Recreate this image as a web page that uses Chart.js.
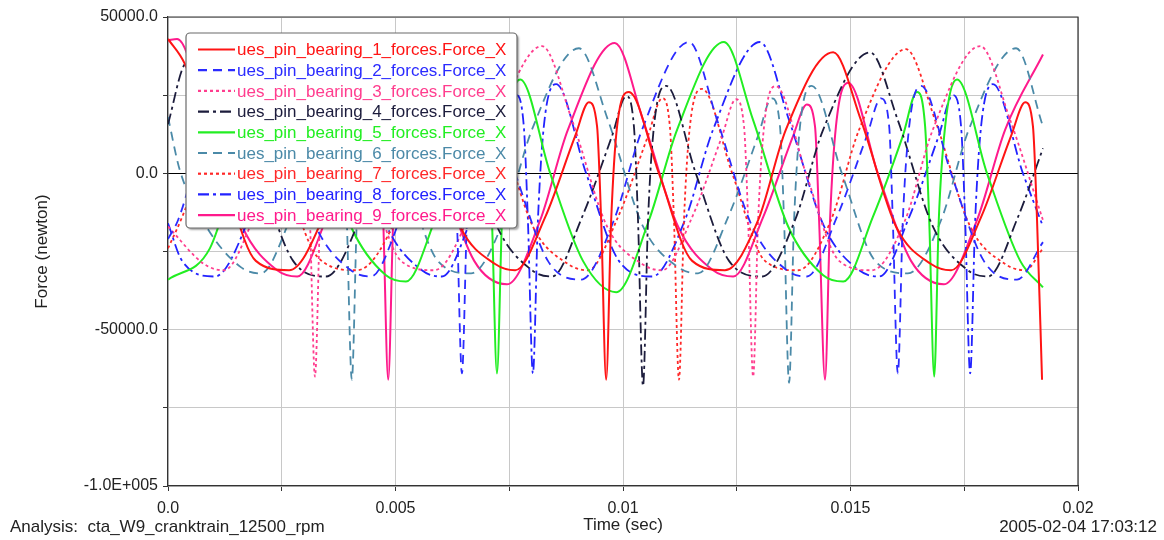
<!DOCTYPE html>
<html><head><meta charset="utf-8">
<script src="https://cdn.jsdelivr.net/npm/chart.js@4.4.1/dist/chart.umd.min.js"></script>
<style>html,body{margin:0;padding:0;background:#fff;}#wrap{width:1164px;height:540px;position:relative;}</style>
</head><body><div id="wrap"><canvas id="c" width="1164" height="540"></canvas></div>
<script>
// ---- data: [time (sec), force (newton)] ----
const seriesNames = [
 'ues_pin_bearing_1_forces.Force_X','ues_pin_bearing_2_forces.Force_X','ues_pin_bearing_3_forces.Force_X',
 'ues_pin_bearing_4_forces.Force_X','ues_pin_bearing_5_forces.Force_X','ues_pin_bearing_6_forces.Force_X',
 'ues_pin_bearing_7_forces.Force_X','ues_pin_bearing_8_forces.Force_X','ues_pin_bearing_9_forces.Force_X'];

const s1 = [[0,43000],[0.00037,35000],[0.00121,0],[0.00193,-28000],[0.00266,-31000],[0.00338,-15000],[0.00400,14000],[0.00503,38700],[0.00565,17000],[0.00642,-17000],[0.00719,-29000],[0.00763,-31000],[0.00829,-14000],[0.00895,12000],[0.00925,22700],[0.00943,15000],[0.00952,-15000],[0.00963,-66000],[0.00974,-15000],[0.00987,15000],[0.01013,26000],[0.01079,0],[0.01152,-28000],[0.01224,-31000],[0.01297,-15000],[0.01358,14000],[0.01462,38700],[0.01523,17000],[0.01600,-17000],[0.01677,-29000],[0.01721,-31000],[0.01787,-14000],[0.01853,12000],[0.01884,22700],[0.01901,15000],[0.01910,-15000],[0.01921,-66000]];
const s2 = [[0,-21000],[0.00022,-15000],[0.00084,14000],[0.00187,42000],[0.00248,17000],[0.00325,-17000],[0.00402,-31000],[0.00446,-33000],[0.00512,-14000],[0.00578,12000],[0.00609,24000],[0.00626,15000],[0.00635,-15000],[0.00646,-64000],[0.00657,-15000],[0.00670,15000],[0.00697,28000],[0.00763,0],[0.00835,-28000],[0.00908,-34000],[0.00980,-15000],[0.01042,14000],[0.01145,42000],[0.01207,17000],[0.01284,-17000],[0.01360,-31000],[0.01404,-33000],[0.01470,-14000],[0.01536,12000],[0.01567,24000],[0.01585,15000],[0.01593,-15000],[0.01604,-64000],[0.01615,-15000],[0.01629,15000],[0.01655,28000],[0.01721,0],[0.01793,-28000],[0.01866,-34000],[0.01923,-22000]];
const s3 = [[0,-17000],[0.00079,-29000],[0.00123,-31000],[0.00189,-14000],[0.00255,12000],[0.00286,23700],[0.00303,15000],[0.00312,-15000],[0.00323,-65000],[0.00334,-15000],[0.00347,15000],[0.00374,27900],[0.00440,0],[0.00512,-28000],[0.00585,-31000],[0.00657,-15000],[0.00719,14000],[0.00822,40700],[0.00888,17000],[0.00965,-17000],[0.01042,-29000],[0.01086,-31000],[0.01152,-14000],[0.01218,12000],[0.01248,23700],[0.01266,15000],[0.01275,-15000],[0.01286,-65000],[0.01297,-15000],[0.01310,15000],[0.01336,27900],[0.01402,0],[0.01475,-28000],[0.01547,-31000],[0.01620,-15000],[0.01681,14000],[0.01785,40700],[0.01851,17000],[0.01923,-15000]];
const s4 = [[0,15700],[0.00037,35000],[0.00080,38000],[0.00136,28000],[0.00202,0],[0.00275,-28000],[0.00347,-33000],[0.00420,-15000],[0.00481,14000],[0.00585,38700],[0.00646,17000],[0.00723,-17000],[0.00800,-31000],[0.00844,-33000],[0.00910,-14000],[0.00976,12000],[0.01007,24700],[0.01024,15000],[0.01033,-15000],[0.01044,-68000],[0.01055,-15000],[0.01068,15000],[0.01095,28000],[0.01160,0],[0.01233,-28000],[0.01306,-33000],[0.01378,-15000],[0.01440,14000],[0.01543,38700],[0.01604,17000],[0.01681,-17000],[0.01758,-31000],[0.01802,-33000],[0.01868,-14000],[0.01923,8000]];
const s5 = [[0,-34000],[0.00092,-24000],[0.00158,5000],[0.00262,42000],[0.00325,17000],[0.00402,-17000],[0.00479,-32600],[0.00523,-34600],[0.00589,-14000],[0.00655,12000],[0.00686,26000],[0.00703,15000],[0.00712,-15000],[0.00723,-64000],[0.00734,-15000],[0.00747,15000],[0.00774,30000],[0.00840,0],[0.00912,-28000],[0.00985,-38000],[0.01057,-15000],[0.01119,14000],[0.01222,42000],[0.01286,17000],[0.01363,-17000],[0.01440,-32600],[0.01484,-34600],[0.01549,-14000],[0.01615,12000],[0.01646,26000],[0.01664,15000],[0.01673,-15000],[0.01684,-65000],[0.01694,-15000],[0.01708,15000],[0.01734,30000],[0.01800,0],[0.01873,-28000],[0.01923,-36500]];
const s6 = [[0,18000],[0.00026,1000],[0.00084,-17000],[0.00160,-30000],[0.00204,-32000],[0.00270,-14000],[0.00336,12000],[0.00367,24000],[0.00385,15000],[0.00393,-15000],[0.00404,-66000],[0.00415,-15000],[0.00429,15000],[0.00455,28000],[0.00521,0],[0.00593,-28000],[0.00666,-32000],[0.00738,-15000],[0.00800,14000],[0.00903,40000],[0.00967,17000],[0.01044,-17000],[0.01121,-30000],[0.01165,-32000],[0.01231,-14000],[0.01297,12000],[0.01327,24000],[0.01345,15000],[0.01354,-15000],[0.01365,-67000],[0.01376,-15000],[0.01389,15000],[0.01415,28000],[0.01481,0],[0.01554,-28000],[0.01626,-32000],[0.01699,-15000],[0.01760,14000],[0.01864,40000],[0.01923,15000]];
const s7 = [[0,-24000],[0.00031,-14000],[0.00097,12000],[0.00127,24000],[0.00165,31000],[0.00255,0],[0.00330,-27000],[0.00415,-31000],[0.00499,-15000],[0.00560,14000],[0.00664,39700],[0.00725,17000],[0.00802,-17000],[0.00879,-29000],[0.00923,-31000],[0.00989,-14000],[0.01055,12000],[0.01086,24000],[0.01103,15000],[0.01112,-15000],[0.01123,-66000],[0.01134,-15000],[0.01147,15000],[0.01174,27000],[0.01240,0],[0.01312,-28000],[0.01385,-31000],[0.01457,-15000],[0.01519,14000],[0.01622,39700],[0.01686,17000],[0.01763,-17000],[0.01840,-29000],[0.01884,-31000],[0.01923,-24000]];
const s8 = [[0,-16000],[0.00031,-28000],[0.00103,-33000],[0.00176,-15000],[0.00237,14000],[0.00341,42000],[0.00404,17000],[0.00481,-17000],[0.00558,-31000],[0.00602,-33000],[0.00668,-14000],[0.00734,12000],[0.00765,25000],[0.00782,15000],[0.00791,-15000],[0.00802,-64000],[0.00813,-15000],[0.00826,15000],[0.00853,28500],[0.00919,0],[0.00991,-28000],[0.01064,-33000],[0.01136,-15000],[0.01198,14000],[0.01301,42000],[0.01365,17000],[0.01442,-17000],[0.01519,-31000],[0.01563,-33000],[0.01629,-14000],[0.01694,12000],[0.01725,25000],[0.01743,15000],[0.01752,-15000],[0.01763,-64000],[0.01774,-15000],[0.01787,15000],[0.01813,28500],[0.01879,0],[0.01923,-17000]];
const s9 = [[0,42500],[0.00020,43000],[0.00086,17000],[0.00163,-17000],[0.00240,-31000],[0.00284,-33000],[0.00349,-14000],[0.00415,12000],[0.00446,22000],[0.00464,15000],[0.00473,-15000],[0.00484,-66000],[0.00495,-15000],[0.00508,15000],[0.00534,29000],[0.00600,0],[0.00673,-28000],[0.00745,-35500],[0.00818,-15000],[0.00879,14000],[0.00982,41700],[0.01044,17000],[0.01121,-17000],[0.01198,-31000],[0.01242,-33000],[0.01308,-14000],[0.01374,12000],[0.01404,22000],[0.01422,15000],[0.01431,-15000],[0.01444,-66000],[0.01455,-15000],[0.01468,15000],[0.01495,29000],[0.01560,0],[0.01633,-28000],[0.01705,-35500],[0.01778,-15000],[0.01840,14000],[0.01923,38000]];

const xTickValues = [0, 0.005, 0.01, 0.015, 0.02];
const xTickLabels = ['0.0', '0.005', '0.01', '0.015', '0.02'];
const yTickValues = [50000, 0, -50000, -100000];
const yTickLabels = ['50000.0', '0.0', '-50000.0', '-1.0E+005'];
const xTitle = 'Time (sec)';
const yTitle = 'Force (newton)';
const footLeft = 'Analysis:  cta_W9_cranktrain_12500_rpm';
const footRight = '2005-02-04 17:03:12';

// ---- styles ----
const styles = [
 {color:'#ff1414', dash:[], width:2},
 {color:'#2b2bff', dash:[9,6], width:1.8},
 {color:'#ff3d8e', dash:[3,3], width:1.8},
 {color:'#1c1c3c', dash:[11,4,3,4], width:1.8},
 {color:'#22ee22', dash:[], width:2},
 {color:'#4b8aa8', dash:[9,6], width:1.8},
 {color:'#ff2828', dash:[3,3], width:1.8},
 {color:'#2222ff', dash:[11,4,3,4], width:1.8},
 {color:'#ff1a8c', dash:[], width:2}
];
const allSeries = [s1,s2,s3,s4,s5,s6,s7,s8,s9];
const FONT = '"Liberation Sans", Arial, sans-serif';

const datasets = allSeries.map((arr,i)=>({
  label: seriesNames[i],
  data: arr.map(p=>({x:p[0], y:p[1]})),
  showLine:true, pointRadius:0, pointHoverRadius:0,
  borderColor: styles[i].color, backgroundColor: styles[i].color,
  borderWidth: styles[i].width, borderDash: styles[i].dash,
  cubicInterpolationMode:'monotone', fill:false
}));

const framePlugin = {
  id:'frame',
  beforeDatasetsDraw(chart){
    const {ctx, chartArea:a} = chart;
    ctx.save(); ctx.strokeStyle='#333'; ctx.lineWidth=1.2;
    ctx.beginPath(); ctx.moveTo(a.left,a.top); ctx.lineTo(a.right,a.top); ctx.lineTo(a.right,a.bottom); ctx.stroke();
    ctx.restore();
  }
};
const legendPlugin = {
  id:'boxLegend',
  afterDraw(chart){
    const ctx = chart.ctx;
    const x0=186, y0=33, w=331, h=195;
    ctx.save();
    ctx.shadowColor='rgba(0,0,0,0.35)'; ctx.shadowOffsetX=2; ctx.shadowOffsetY=2; ctx.shadowBlur=2;
    ctx.beginPath(); ctx.roundRect(x0,y0,w,h,4); ctx.fillStyle='#fff'; ctx.fill();
    ctx.shadowColor='transparent';
    ctx.strokeStyle='#6a6a6a'; ctx.lineWidth=1.2; ctx.stroke();
    ctx.font='17px '+FONT; ctx.textBaseline='middle'; ctx.textAlign='left';
    chart.data.datasets.forEach((ds,i)=>{
      const y = 49.5 + i*20.7;
      ctx.beginPath(); ctx.setLineDash(ds.borderDash); ctx.strokeStyle=ds.borderColor; ctx.lineWidth=2.2;
      ctx.moveTo(198,y); ctx.lineTo(235,y); ctx.stroke();
      ctx.setLineDash([]);
      ctx.fillStyle=ds.borderColor; ctx.fillText(ds.label, 237, y+1);
    });
    ctx.restore();
  }
};
const footerPlugin = {
  id:'footer',
  afterDraw(chart){
    const ctx = chart.ctx;
    ctx.save(); ctx.font='17px '+FONT; ctx.fillStyle='#222'; ctx.textBaseline='middle';
    ctx.textAlign='left'; ctx.fillText(footLeft, 10, 527);
    ctx.textAlign='right'; ctx.fillText(footRight, 1157, 527);
    ctx.restore();
  }
};

new Chart(document.getElementById('c'), {
  type:'scatter',
  data:{datasets},
  options:{
    responsive:false, animation:false, devicePixelRatio:1,
    layout:{padding:{left:0, right:86, top:17, bottom:0}},
    plugins:{legend:{display:false}, tooltip:{enabled:false}},
    scales:{
      x:{type:'linear', min:0, max:0.02,
        afterFit(s){ s.height = 54; },
        border:{color:'#333', width:1.2},
        grid:{color:'#c8c8c8', lineWidth:1, tickLength:5, tickColor:'#333'},
        ticks:{stepSize:0.0025, autoSkip:false, maxRotation:0, padding:8, color:'#222', font:{family:FONT, size:16},
          callback:(v)=>{ const k = xTickValues.findIndex(t=>Math.abs(t-v)<1e-9); return k>=0 ? xTickLabels[k] : ''; }},
        title:{display:true, text:xTitle, color:'#222', font:{family:FONT, size:17}, padding:{top:0, bottom:4}}
      },
      y:{type:'linear', min:-100000, max:50000,
        afterFit(s){ s.width = 168; },
        border:{color:'#333', width:1.2},
        grid:{color:(c)=> (c.tick && c.tick.value===0) ? '#000' : '#c8c8c8', lineWidth:1, tickLength:5, tickColor:'#333'},
        ticks:{stepSize:25000, autoSkip:false, padding:5, color:'#222', font:{family:FONT, size:16},
          callback:(v)=>{ const k = yTickValues.indexOf(v); return k>=0 ? yTickLabels[k] : ''; }},
        title:{display:true, text:yTitle, color:'#222', font:{family:FONT, size:17}, padding:{top:32, bottom:0}}
      }
    }
  },
  plugins:[framePlugin, legendPlugin, footerPlugin]
});
</script></body></html>
